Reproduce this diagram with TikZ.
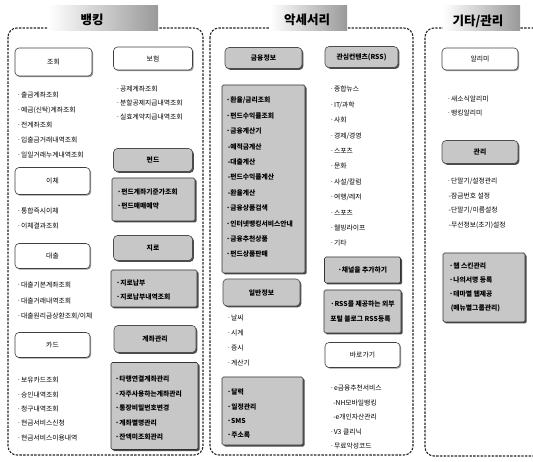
\documentclass[tikz,border=0pt]{standalone}
\usepackage{fontspec}
\setmainfont{Noto Sans CJK KR}
\usetikzlibrary{shadows}
\newcommand{\lstf}[1]{\fontsize{6.8}{#1}\selectfont}
\begin{document}
\begin{tikzpicture}[x=1pt,y=-1pt,
  panel/.style={draw=black!85, line width=1.1pt, dash pattern=on 2.4pt off 1.3pt, rounded corners=9pt},
  whitebox/.style={draw=black!75, line width=0.6pt, rounded corners=4pt, fill=white,
     drop shadow={shadow xshift=1.2pt, shadow yshift=-1.2pt, fill=black!40, opacity=1},
     font=\lstf{8}, inner sep=0pt},
  shadehead/.style={draw=black!70, line width=0.6pt, rounded corners=4pt, fill=black!22,
     drop shadow={shadow xshift=1.4pt, shadow yshift=-1.4pt, fill=black!70, opacity=1},
     font=\lstf{8}\bfseries, inner sep=0pt},
  shadebox/.style={draw=black!80, line width=0.7pt, rounded corners=1.5pt, fill=black!22,
     drop shadow={shadow xshift=1.5pt, shadow yshift=-1.5pt, fill=black!70, opacity=1}, inner sep=0pt},
  itemlist/.style={anchor=north west, align=left, inner sep=0pt},
  titlebg/.style={left color=white, right color=black!40},
  titletxt/.style={font=\fontsize{12.5}{14}\selectfont\bfseries, inner sep=0pt},
]
\useasboundingbox (0,0) rectangle (533,462);
\fill[white] (0,0) rectangle (533,462);

% ---------- panels ----------
\draw[panel] (8,28) rectangle (203,455);
\draw[panel] (210,28) rectangle (413,455);
\draw[panel] (545,28) -- (425,28) -- (425,456) -- (545,456);

% ---------- titles ----------
\fill[titlebg] (48,6) rectangle (158,31);
\node[titletxt] (t1) at (92,20) {뱅킹};
\fill[titlebg] (270,6) rectangle (347,31);
\node[titletxt] (t2) at (307,20) {악세서리};
\fill[titlebg] (443,6) rectangle (520,31);
\node[titletxt] (t3) at (478,21) {기타/관리};

% ---------- banking, left column ----------
\node[whitebox, minimum width=77pt, minimum height=28pt] (b1) at (53.5,62) {조회};
\node[itemlist, font=\lstf{15}] (l1) at (17,91.5) {·출금계좌조회\\·예금(신탁)계좌조회\\·전계좌조회\\·입출금거래내역조회\\·일일거래누계내역조회};
\node[whitebox, minimum width=75pt, minimum height=27pt] (b2) at (52.5,181) {이체};
\node[itemlist, font=\lstf{15}] (l2) at (17,208) {·통합즉시이체\\·이체결과조회};
\node[whitebox, minimum width=75pt, minimum height=25pt] (b3) at (52.5,256) {대출};
\node[itemlist, font=\lstf{15.5}] (l3) at (17,282) {·대출기본계좌조회\\·대출거래내역조회\\·대출원리금상환조회/이체};
\node[whitebox, minimum width=75pt, minimum height=25pt] (b4) at (52.5,345) {카드};
\node[itemlist, font=\lstf{14.3}] (l4) at (17,377) {·보유카드조회\\·승인내역조회\\·청구내역조회\\·현금서비스신청\\·현금서비스이용내역};

% ---------- banking, right column ----------
\node[whitebox, minimum width=79pt, minimum height=23pt] (b5) at (153,58.5) {보험};
\node[itemlist, font=\lstf{14}] (l5) at (116,86) {·공제계좌조회\\·분할공제지급내역조회\\·실효계약지급내역조회};
\node[shadehead, minimum width=79pt, minimum height=23pt] (b6) at (153,160) {펀드};
\node[shadebox, minimum width=83pt, minimum height=43pt] (s1) at (153.5,199.5) {};
\node[itemlist, font=\lstf{14}\bfseries] (l6) at (117,189) {·펀드계좌기준가조회\\·펀드매매예약};
\node[shadehead, minimum width=79pt, minimum height=25pt] (b7) at (153,248) {지로};
\node[shadebox, minimum width=86pt, minimum height=37pt] (s2) at (154,288.5) {};
\node[itemlist, font=\lstf{14}\bfseries] (l7) at (116,279.5) {·지로납부\\·지로납부내역조회};
\node[shadehead, minimum width=82pt, minimum height=27pt] (b8) at (155,339) {계좌관리};
\node[shadebox, minimum width=87pt, minimum height=87pt] (s3) at (154.5,406) {};
\node[itemlist, font=\lstf{14.4}\bfseries] (l8) at (115,376) {·타행연결계좌관리\\·자주사용하는계좌관리\\·통장비밀번호변경\\·계좌별명관리\\·잔액미조회관리};

% ---------- accessories, left column ----------
\node[shadehead, minimum width=77pt, minimum height=21pt] (c1) at (263.5,58) {금융정보};
\node[shadebox, minimum width=83pt, minimum height=188pt] (s4) at (263.5,179) {};
\node[itemlist, font=\lstf{15.4}\bfseries] (l9) at (226,97) {·환율/금리조회\\·펀드수익률조회\\·금융계산기\\\ -예적금계산\\\ -대출계산\\\ -펀드수익률계산\\\ -환율계산\\·금융상품검색\\·인터넷뱅킹서비스안내\\·금융추천상품\\·펀드상품판매};
\node[shadehead, minimum width=77pt, minimum height=27pt] (c2) at (261.5,292.5) {일반정보};
\node[itemlist, font=\lstf{15}] (l10) at (227,315) {·날씨\\·시계\\·증시\\·계산기};
\node[shadebox, minimum width=81pt, minimum height=68pt] (s5) at (262.5,411) {};
\node[itemlist, font=\lstf{14.3}\bfseries] (l11) at (227,389) {·달력\\·일정관리\\·SMS\\·주소록};

% ---------- accessories, right column ----------
\node[shadehead, minimum width=73pt, minimum height=21pt] (c3) at (361.5,57) {관심컨텐츠(RSS)};
\node[itemlist, font=\lstf{15.4}] (l12) at (330,86) {·종합뉴스\\·IT/과학\\·사회\\·경제/경영\\·스포츠\\·문화\\·사설/칼럼\\·여행/레저\\·스포츠\\·웰빙라이프\\·기타};
\node[shadebox, minimum width=76pt, minimum height=26pt, font=\lstf{8}\bfseries] (s6) at (362.5,270) {·채널을 추가하기};
\node[shadebox, minimum width=77pt, minimum height=43pt, font=\lstf{15}\bfseries, align=left] (s7) at (362.5,311.5) {·RSS를 제공하는 외부\\포털 블로그 RSS등록};
\node[whitebox, minimum width=75pt, minimum height=25pt] (c4) at (362.5,355) {바로가기};
\node[itemlist, font=\lstf{14.4}] (l13) at (330,385) {·e금융추천서비스\\\ \ -NH모바일뱅킹\\\ \ -e개인자산관리\\·V3 클리닉\\·무료악성코드};

% ---------- misc / management ----------
\node[whitebox, minimum width=76pt, minimum height=22pt] (d1) at (480,59) {알리미};
\node[itemlist, font=\lstf{13.5}] (l14) at (447,96) {·새소식알리미\\·뱅킹알리미};
\node[shadehead, minimum width=76pt, minimum height=23pt] (d2) at (480,152) {관리};
\node[itemlist, font=\lstf{14.4}] (l15) at (447,178) {·단말기/설정관리\\\ -잠금번호 설정\\\ -단말기/이름설정\\\ -무선정보(초기)설정};
\node[shadebox, minimum width=82pt, minimum height=69pt] (s8) at (484,287.5) {};
\node[itemlist, font=\lstf{14}\bfseries] (l16) at (449,263) {·웹 스킨관리\\·나의서명 등록\\·테마별 웹제공\\\ (메뉴별그룹관리)};
\end{tikzpicture}
\end{document}
